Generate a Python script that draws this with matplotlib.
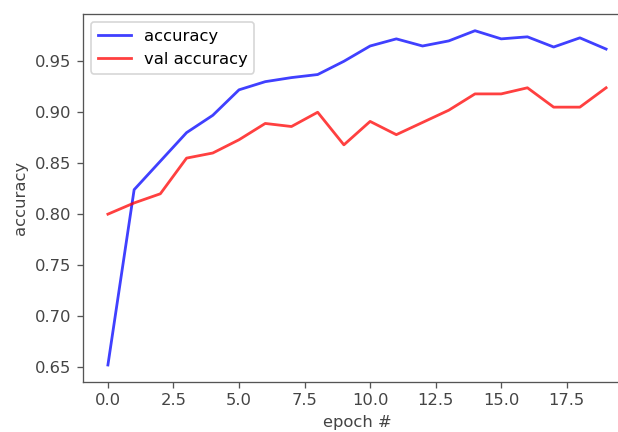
import matplotlib
matplotlib.use("Agg")
import matplotlib.pyplot as plt

epochs = list(range(20))
accuracy = [0.652, 0.824, 0.852, 0.880, 0.897, 0.922, 0.930, 0.934, 0.937, 0.950,
            0.965, 0.972, 0.965, 0.970, 0.980, 0.972, 0.974, 0.964, 0.973, 0.962]
val_accuracy = [0.800, 0.811, 0.820, 0.855, 0.860, 0.873, 0.889, 0.886, 0.900, 0.868,
                0.891, 0.878, 0.890, 0.902, 0.918, 0.918, 0.924, 0.905, 0.905, 0.924]

dpi = 118
fig = plt.figure(figsize=(618 / dpi, 432 / dpi), dpi=dpi)
ax = fig.add_axes([83 / 618, 50.3 / 432, 548 / 618, 367.7 / 432])

ax.plot(epochs, accuracy, color="b", alpha=0.75, lw=1.7, label="accuracy")
ax.plot(epochs, val_accuracy, color="r", alpha=0.75, lw=1.7, label="val accuracy")
ax.set_xlabel("epoch #")
ax.set_ylabel("accuracy")
ax.legend(loc="upper left")
ax.spines["right"].set_visible(False)
for s in ("left", "bottom", "top"):
    ax.spines[s].set_color("#555555")
ax.tick_params(colors="#555555", labelcolor="#444444")
ax.xaxis.label.set_color("#444444")
ax.yaxis.label.set_color("#444444")

fig.savefig("out.png", dpi=dpi)
